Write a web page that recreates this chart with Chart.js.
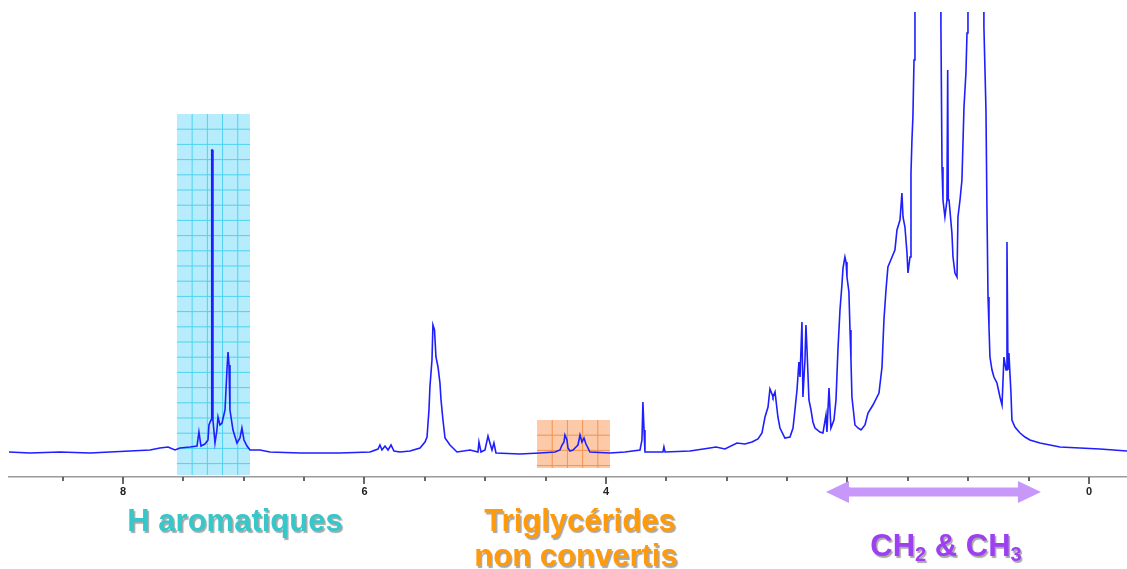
<!DOCTYPE html>
<html lang="fr">
<head>
<meta charset="utf-8">
<title>Spectre RMN 1H</title>
<script src="https://cdn.jsdelivr.net/npm/chart.js@4.4.1/dist/chart.umd.min.js"></script>
<style>
  html, body { margin: 0; padding: 0; background: #fff; }
  #wrap { width: 1127px; height: 569px; }
</style>
</head>
<body>
<div id="wrap"><canvas id="nmr" width="1127" height="569"></canvas></div>
<script>
/* ════════════════════════════════════════
   Spectre RMN 1H
════════════════════════════════════════ */

/* déplacement chimique (ppm) */
const PPM = [
  8.944, 8.770, 8.522, 8.273, 8.108, 7.942, 7.776, 7.694, 7.627, 7.569,
  7.528, 7.445, 7.387, 7.371, 7.354, 7.321, 7.296, 7.288, 7.271, 7.265,
  7.260, 7.255, 7.238, 7.222, 7.213, 7.197, 7.180, 7.155, 7.139, 7.130,
  7.122, 7.114, 7.089, 7.056, 7.031, 7.015, 6.998, 6.973, 6.948, 6.865,
  6.783, 6.534, 6.203, 5.954, 5.888, 5.872, 5.855, 5.830, 5.805, 5.780,
  5.756, 5.706, 5.623, 5.540, 5.499, 5.482, 5.466, 5.458, 5.441, 5.433,
  5.420, 5.408, 5.391, 5.375, 5.366, 5.350, 5.333, 5.292, 5.234, 5.126,
  5.060, 5.052, 5.035, 5.002, 4.977, 4.961, 4.944, 4.928, 4.911, 4.712,
  4.547, 4.422, 4.381, 4.364, 4.348, 4.340, 4.323, 4.315, 4.298, 4.273,
  4.248, 4.232, 4.215, 4.199, 4.182, 4.166, 4.149, 4.133, 3.967, 3.843,
  3.718, 3.702, 3.694, 3.685, 3.677, 3.553, 3.528, 3.520, 3.511, 3.304,
  3.139, 3.089, 3.015, 2.915, 2.849, 2.791, 2.741, 2.708, 2.683, 2.658,
  2.642, 2.625, 2.617, 2.600, 2.576, 2.559, 2.518, 2.476, 2.451, 2.435,
  2.418, 2.402, 2.393, 2.377, 2.369, 2.352, 2.344, 2.335, 2.319, 2.302,
  2.286, 2.269, 2.228, 2.203, 2.178, 2.170, 2.153, 2.137, 2.112, 2.095,
  2.079, 2.062, 2.046, 2.037, 2.021, 2.012, 2.004, 1.988, 1.979, 1.971,
  1.963, 1.938, 1.913, 1.888, 1.855, 1.830, 1.789, 1.739, 1.714, 1.698,
  1.681, 1.665, 1.648, 1.631, 1.607, 1.590, 1.565, 1.549, 1.540, 1.524,
  1.507, 1.499, 1.482, 1.474, 1.466, 1.458, 1.449, 1.441, 1.330, 1.232,
  1.226, 1.217, 1.209, 1.193, 1.176, 1.170, 1.165, 1.159, 1.151, 1.135,
  1.126, 1.110, 1.093, 1.085, 1.068, 1.052, 1.035, 1.019, 1.010, 1.002,
  0.940, 0.876, 0.870, 0.853, 0.845, 0.836, 0.828, 0.820, 0.803, 0.787,
  0.762, 0.737, 0.720, 0.704, 0.687, 0.679, 0.671, 0.663, 0.646, 0.638,
  0.613, 0.571, 0.530, 0.489, 0.406, 0.240, 0.075, -0.091, -0.315,
];

/* intensité (unités arbitraires, ligne de base ≈ 0) */
const INTENSITY = [
  1, 0, 1, 0, 1, 2, 3, 5, 6, 3,
  5, 6, 7, 21, 7, 9, 13, 28, 33, 303,
  303, 33, 10, 23, 36, 28, 30, 43, 83, 101,
  88, 43, 23, 10, 15, 25, 13, 7, 3, 3,
  1, 0, 0, 1, 4, 8, 3, 7, 3, 8,
  2, 1, 2, 5, 11, 16, 43, 66, 93, 128,
  123, 96, 86, 70, 53, 33, 15, 8, 1, 3,
  1, 11, 1, 3, 17, 10, 3, 10, 0, -1,
  0, 1, 3, 8, 11, 18, 13, 5, 2, 3,
  6, 8, 18, 11, 15, 9, 5, 1, 0, 1,
  3, 13, 51, 23, 1, 1, 1, 6, 1, 2,
  5, 6, 4, 10, 9, 11, 14, 20, 36, 46,
  64, 59, 56, 61, 36, 25, 15, 16, 25, 43,
  63, 91, 76, 131, 56, 93, 128, 103, 53, 43,
  31, 25, 21, 20, 38, 21, 65, 25, 33, 53,
  103, 143, 168, 185, 196, 191, 176, 161, 123, 93,
  56, 28, 25, 23, 28, 40, 48, 60, 86, 133,
  163, 186, 191, 196, 203, 223, 233, 260, 236, 226,
  200, 180, 196, 280, 313, 336, 393, 700, 1000, 700,
  426, 286, 253, 236, 253, 383, 253, 253, 253, 220,
  196, 180, 176, 236, 253, 273, 346, 380, 420, 700,
  1000, 700, 426, 343, 246, 156, 126, 96, 83, 76,
  70, 56, 48, 96, 83, 211, 83, 100, 60, 33,
  26, 20, 16, 13, 10, 6, 5, 4, 2,
];

const TICK_VALUES  = [0, 0.5, 1, 1.5, 2, 2.5, 3, 3.5, 4, 4.5, 5, 5.5, 6, 6.5, 7, 7.5, 8, 8.5];
const MAJOR_TICKS  = [0, 2, 4, 6, 8];

const FONT = "'Liberation Sans', Arial, Helvetica, sans-serif";

/* zones surlignées (ppm / intensité) */
const REGIONS = [
  { from: 7.553, to: 6.948, top: 339, bottom: -22, fill: '#b6ecfb', line: '#4dd3f2' },
  { from: 4.571, to: 3.967, top: 33,  bottom: -15, fill: '#fccaa9', line: '#f3924f' },
];

/* ─── zones colorées derrière le spectre ─── */
const regionPlugin = {
  id: 'regions',
  beforeDatasetsDraw(chart) {
    const { ctx, scales: { x, y } } = chart;
    ctx.save();
    REGIONS.forEach(r => {
      const x0 = x.getPixelForValue(r.from), x1 = x.getPixelForValue(r.to);
      const y0 = y.getPixelForValue(r.top),  y1 = y.getPixelForValue(r.bottom);
      ctx.fillStyle = r.fill;
      ctx.fillRect(x0, y0, x1 - x0, y1 - y0);
      ctx.strokeStyle = r.line;
      ctx.lineWidth = 1;
      ctx.beginPath();
      for (let px = x0 + 15.2; px < x1 - 2; px += 15.2) { ctx.moveTo(px, y0); ctx.lineTo(px, y1); }
      for (let py = y0 + 15.2; py < y1 - 2; py += 15.2) { ctx.moveTo(x0, py); ctx.lineTo(x1, py); }
      ctx.stroke();
    });
    ctx.restore();
  }
};

/* ─── graduations (longues / courtes) ─── */
const tickPlugin = {
  id: 'ticks',
  afterDraw(chart) {
    const { ctx, scales: { x } } = chart;
    ctx.save();
    ctx.strokeStyle = '#444';
    ctx.lineWidth = 1.6;
    ctx.beginPath();
    TICK_VALUES.forEach(v => {
      const px = Math.round(x.getPixelForValue(v));
      const len = MAJOR_TICKS.includes(v) ? 7 : 4;
      ctx.moveTo(px, x.top); ctx.lineTo(px, x.top + len);
    });
    ctx.stroke();
    ctx.restore();
  }
};

/* ─── légendes et flèche ─── */
function drawRuns(ctx, runs, cx, base, size, color) {
  let w = 0;
  runs.forEach(r => {
    ctx.font = `bold ${r.sub ? Math.round(size * 0.64) : size}px ${FONT}`;
    r.w = ctx.measureText(r.t).width; w += r.w;
  });
  let px = cx - w / 2;
  ctx.fillStyle = color;
  runs.forEach(r => {
    ctx.font = `bold ${r.sub ? Math.round(size * 0.64) : size}px ${FONT}`;
    ctx.fillText(r.t, px, base + (r.sub ? size * 0.17 : 0));
    px += r.w;
  });
}

const annotPlugin = {
  id: 'annot',
  afterDraw(chart) {
    const { ctx, scales: { x } } = chart;
    ctx.save();

    // double flèche CH2 & CH3
    const ax0 = x.getPixelForValue(2.178), ax1 = x.getPixelForValue(0.398);
    const ay = 492, head = 23, hh = 11, sh = 4.5;
    ctx.fillStyle = '#c897fa';
    ctx.beginPath();
    ctx.moveTo(ax0, ay);
    ctx.lineTo(ax0 + head, ay - hh);
    ctx.lineTo(ax0 + head, ay - sh);
    ctx.lineTo(ax1 - head, ay - sh);
    ctx.lineTo(ax1 - head, ay - hh);
    ctx.lineTo(ax1, ay);
    ctx.lineTo(ax1 - head, ay + hh);
    ctx.lineTo(ax1 - head, ay + sh);
    ctx.lineTo(ax0 + head, ay + sh);
    ctx.lineTo(ax0 + head, ay + hh);
    ctx.closePath();
    ctx.fill();

    ctx.shadowColor = 'rgba(0,0,0,0.35)';
    ctx.shadowOffsetX = 1.5;
    ctx.shadowOffsetY = 1.5;
    ctx.shadowBlur = 1;
    ctx.textBaseline = 'alphabetic';
    ctx.textAlign = 'left';

    drawRuns(ctx, [{ t: 'H aromatiques' }], 235, 531, 31, '#35c7c9');
    drawRuns(ctx, [{ t: 'Triglycérides' }], 580, 531, 31, '#ff9a0a');
    drawRuns(ctx, [{ t: 'non convertis' }], 576, 566, 31, '#ff9a0a');
    drawRuns(ctx, [
      { t: 'CH' }, { t: '2', sub: true }, { t: ' & CH' }, { t: '3', sub: true },
    ], 946, 556, 31, '#9e3ff2');

    ctx.restore();
  }
};

/* ════════════════════════════════════════
   CHART
════════════════════════════════════════ */
const points = PPM.map((p, i) => ({ x: p, y: INTENSITY[i] }));

new Chart(document.getElementById('nmr'), {
  type: 'line',
  data: {
    datasets: [{
      data: points,
      borderColor: '#1e1eff',
      borderWidth: 1.6,
      pointRadius: 0,
      tension: 0,
      fill: false,
    }]
  },
  options: {
    responsive: false,
    animation: false,
    parsing: true,
    layout: { padding: { left: 9, top: 12, right: 0, bottom: 0 } },
    plugins: { legend: { display: false }, tooltip: { enabled: false } },
    scales: {
      x: {
        type: 'linear',
        reverse: true,
        min: -0.315,
        max: 8.944,
        afterBuildTicks: s => { s.ticks = TICK_VALUES.map(v => ({ value: v })); },
        afterFit: s => { s.height = 92; },
        grid: { display: true, drawOnChartArea: false, drawTicks: false },
        border: { display: true, color: '#9a9a9a', width: 1.5 },
        ticks: {
          autoSkip: false,
          maxRotation: 0,
          padding: 8,
          color: '#222',
          font: { family: FONT, size: 11, weight: 'bold' },
          callback: v => MAJOR_TICKS.includes(v) ? String(v) : '',
        },
      },
      y: {
        display: false,
        min: -24,
        max: 441,
      },
    },
  },
  plugins: [regionPlugin, tickPlugin, annotPlugin],
});
</script>
</body>
</html>
